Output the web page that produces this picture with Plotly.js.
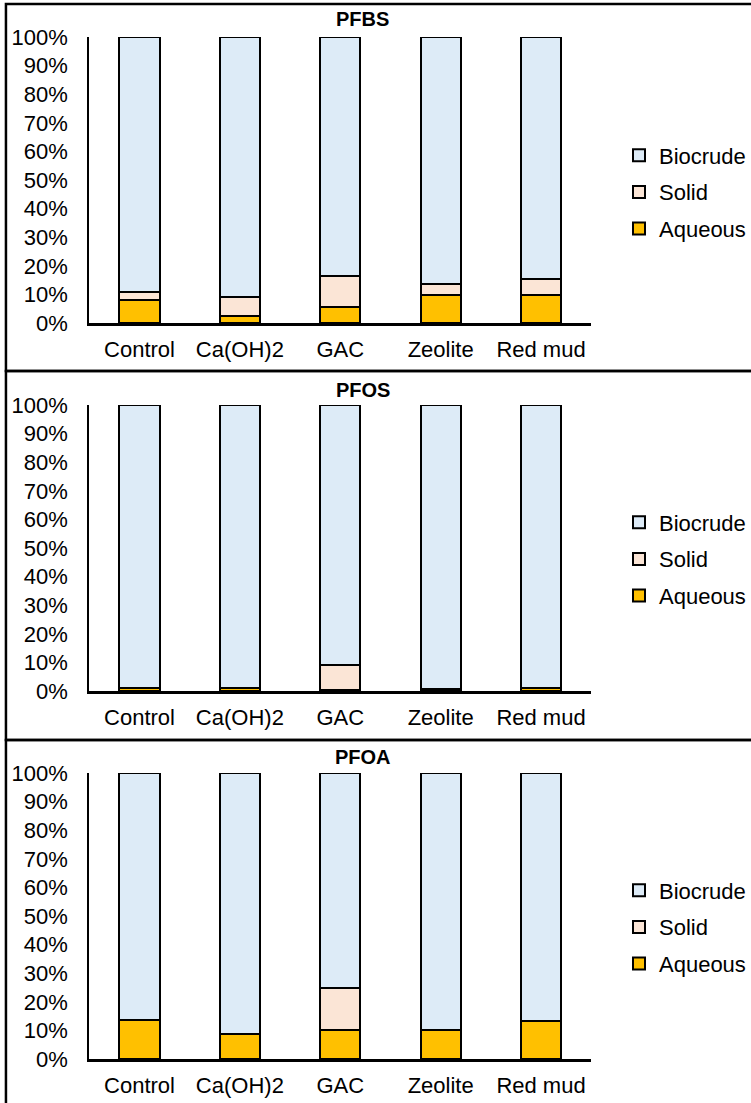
<!DOCTYPE html>
<html>
<head>
<meta charset="utf-8">
<script src="https://cdn.plot.ly/plotly-3.0.1.min.js"></script>
<style>
  html, body { margin: 0; padding: 0; background: #ffffff; }
  #chart { width: 751px; height: 1103px; }
</style>
</head>
<body>
<div id="chart"></div>
<script>
// Share of each PFAS compound recovered in each HTL product phase (%)
const categories = ['Control', 'Ca(OH)2', 'GAC', 'Zeolite', 'Red mud'];
const panelTitles = ['PFBS', 'PFOS', 'PFOA'];
const phaseNames = ['Aqueous', 'Solid', 'Biocrude'];

const pfbsAqueous  = [8.1, 2.3, 5.5, 9.7, 9.7];
const pfbsSolid    = [2.6, 6.8, 11.1, 3.8, 5.7];
const pfbsBiocrude = [89.3, 90.9, 83.4, 86.5, 84.6];

const pfosAqueous  = [1.2, 1.1, 0.3, 0.6, 1.1];
const pfosSolid    = [0, 0, 8.9, 0, 0];
const pfosBiocrude = [98.8, 98.9, 90.8, 99.4, 98.9];

const pfoaAqueous  = [13.6, 8.6, 10.1, 10.3, 13.3];
const pfoaSolid    = [0, 0, 14.8, 0, 0];
const pfoaBiocrude = [86.4, 91.4, 75.1, 89.7, 86.7];

const panelSeries = [
  [pfbsAqueous, pfbsSolid, pfbsBiocrude],
  [pfosAqueous, pfosSolid, pfosBiocrude],
  [pfoaAqueous, pfoaSolid, pfoaBiocrude]
];

const phaseColors = ['#FFC000', '#FBE5D6', '#DDEBF7'];
const FONT = 'Liberation Sans, Arial, sans-serif';
const W = 751, H = 1103;

// pixel layout of each panel: plot top/bottom, frame top, title y, legend centre
const panels = [
  { top: 37,  bottom: 323,  frameTop: 4,   titleY: 18.7, legendY: 192 },
  { top: 405, bottom: 691,  frameTop: 371, titleY: 390,  legendY: 559 },
  { top: 773, bottom: 1059, frameTop: 740, titleY: 757,  legendY: 927 }
];
const plotLeft = 90, plotRight = 596;

const traces = [];
const layout = {
  width: W, height: H, autosize: false,
  margin: { l: 0, r: 0, t: 0, b: 0 },
  paper_bgcolor: '#ffffff', plot_bgcolor: '#ffffff',
  barmode: 'stack',
  bargap: 0.6,
  font: { family: FONT, size: 22, color: '#000000' },
  annotations: [],
  shapes: []
};

panels.forEach((p, i) => {
  const n = i === 0 ? '' : String(i + 1);
  const legendKey = 'legend' + n;
  panelSeries[i].forEach((vals, k) => {
    traces.push({
      type: 'bar',
      x: categories,
      y: vals,
      name: phaseNames[k],
      xaxis: 'x' + n,
      yaxis: 'y' + n,
      legend: legendKey,
      legendgroup: 'p' + i + '_' + k,
      legendrank: 3 - k,
      marker: { color: phaseColors[k], line: { color: '#000000', width: 2 } },
      hoverinfo: 'skip'
    });
  });

  layout['xaxis' + n] = {
    domain: [plotLeft / W, plotRight / W],
    anchor: 'y' + n,
    range: [-0.5, 4.5],
    showline: true, linecolor: '#000000', linewidth: 2.5,
    showgrid: false, zeroline: false,
    ticks: 'outside', ticklen: 5, tickcolor: 'rgba(0,0,0,0)',
    tickfont: { family: FONT, size: 22, color: '#000000' },
    fixedrange: true
  };
  layout['yaxis' + n] = {
    domain: [1 - p.bottom / H, 1 - p.top / H],
    anchor: 'x' + n,
    range: [0, 100],
    dtick: 10, tick0: 0,
    ticksuffix: '%',
    showline: true, linecolor: '#000000', linewidth: 2,
    showgrid: false, zeroline: false,
    ticks: 'outside', ticklen: 15, tickcolor: 'rgba(0,0,0,0)',
    tickfont: { family: FONT, size: 22, color: '#000000' },
    fixedrange: true
  };
  layout[legendKey] = {
    x: 624 / W, xanchor: 'left',
    y: 1 - p.legendY / H, yanchor: 'middle',
    traceorder: 'grouped',
    tracegroupgap: 5,
    bgcolor: 'rgba(0,0,0,0)',
    font: { family: FONT, size: 22, color: '#000000' }
  };
  layout.annotations.push({
    xref: 'paper', yref: 'paper',
    x: 365.5 / W, y: 1 - p.titleY / H,
    xanchor: 'center', yanchor: 'middle',
    showarrow: false,
    text: '<b>' + panelTitles[i] + '</b>',
    font: { family: FONT, size: 20, color: '#000000' }
  });
  // frame around each panel
  layout.shapes.push({
    type: 'rect', xref: 'paper', yref: 'paper',
    x0: 6 / W, x1: 1.05,
    y0: 1 - (i < 2 ? panels[i + 1].frameTop : H + 10) / H,
    y1: 1 - p.frameTop / H,
    line: { color: '#000000', width: 2.5 },
    fillcolor: 'rgba(0,0,0,0)',
    layer: 'below'
  });
});

Plotly.newPlot('chart', traces, layout, { displayModeBar: false, staticPlot: true });
</script>
</body>
</html>
